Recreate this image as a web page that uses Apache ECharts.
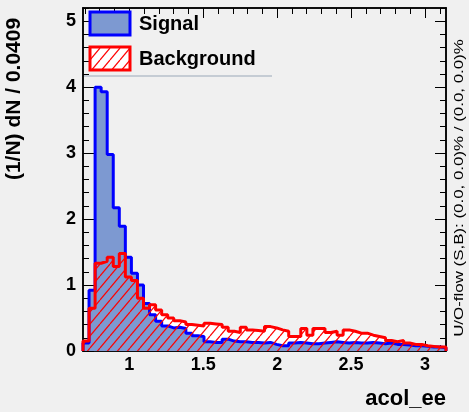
<!DOCTYPE html>
<html><head><meta charset="utf-8">
<script src="https://cdn.jsdelivr.net/npm/echarts@6/dist/echarts.min.js"></script>
<style>html,body{margin:0;padding:0;background:#f0f0f0;}#c{width:469px;height:412px;}</style>
</head><body><div id="c"></div>
<script>
// Binning: 60 bins of width 0.0409 from 0.6876 to pi
const xMin = 0.6876;
const binWidth = 0.0409;
const nBins = 60;
const xMax = xMin + nBins * binWidth;

const signal = [
  0.12, 0.92, 4.00, 3.93, 2.98, 2.17, 1.89, 1.42, 1.18, 1.00,
  0.72, 0.55, 0.45, 0.38, 0.35, 0.36, 0.34, 0.27, 0.23, 0.22,
  0.14, 0.13, 0.13, 0.18, 0.15, 0.14, 0.14, 0.13, 0.13, 0.12,
  0.13, 0.10, 0.08, 0.08, 0.12, 0.13, 0.12, 0.11, 0.11, 0.12,
  0.13, 0.14, 0.13, 0.12, 0.13, 0.12, 0.12, 0.13, 0.12, 0.11,
  0.12, 0.10, 0.10, 0.09, 0.08, 0.08, 0.07, 0.06, 0.06, 0.05
];
const background = [
  0.15, 0.65, 1.33, 1.36, 1.42, 1.28, 1.48, 1.12, 1.07, 0.80,
  0.65, 0.70, 0.62, 0.55, 0.50, 0.46, 0.44, 0.40, 0.39, 0.38,
  0.42, 0.41, 0.40, 0.36, 0.30, 0.28, 0.36, 0.32, 0.31, 0.30,
  0.37, 0.35, 0.32, 0.30, 0.22, 0.22, 0.34, 0.24, 0.34, 0.34,
  0.28, 0.30, 0.24, 0.32, 0.30, 0.27, 0.27, 0.24, 0.22, 0.20,
  0.16, 0.14, 0.16, 0.12, 0.10, 0.10, 0.08, 0.07, 0.06, 0.06
];

const xMajorTicks = [1, 1.5, 2, 2.5, 3];
const xMinorTicks = [0.7, 0.8, 0.9, 1.0, 1.1, 1.2, 1.3, 1.4, 1.5, 1.6, 1.7, 1.8, 1.9, 2.0,
  2.1, 2.2, 2.3, 2.4, 2.5, 2.6, 2.7, 2.8, 2.9, 3.0, 3.1];
const yMajorTicks = [0, 1, 2, 3, 4, 5];
const yMinorTicks = [0.2, 0.4, 0.6, 0.8, 1.2, 1.4, 1.6, 1.8, 2.2, 2.4, 2.6, 2.8, 3.2, 3.4, 3.6, 3.8,
  4.2, 4.4, 4.6, 4.8, 5.2];
const yMax = 5.2;

const seriesNames = ['Signal', 'Background'];
const xTitle = 'acol_ee';
const yTitle = '(1/N) dN / 0.0409';
const flowText = 'U/O-flow (S,B): (0.0, 0.0)% / (0.0, 0.0)%';

function stepData(vals) {
  const pts = [[xMin, 0]];
  vals.forEach((v, k) => pts.push([xMin + k * binWidth, v]));
  pts.push([xMax, vals[vals.length - 1]]);
  pts.push([xMax, 0]);
  return pts;
}

function hatchCanvas() {
  const c = document.createElement('canvas');
  c.width = 10; c.height = 12;
  const g = c.getContext('2d');
  g.strokeStyle = '#ff0000';
  g.lineWidth = 1.2;
  [[0, 0], [-10, 0], [10, 0]].forEach(([dx, dy]) => {
    g.beginPath();
    g.moveTo(0 + dx, 12 + dy);
    g.lineTo(10 + dx, 0 + dy);
    g.stroke();
  });
  return c;
}
const hatch = { image: hatchCanvas(), repeat: 'repeat' };

const FONT = '"Liberation Sans", Arial, Helvetica, sans-serif';

function xAxisDef(position, ticks, len, labels) {
  return {
    type: 'value', min: xMin, max: xMax, position: position,
    axisLine: { show: true, onZero: false, lineStyle: { color: '#000', width: 1.5 } },
    axisTick: { show: true, inside: true, length: len, customValues: ticks, lineStyle: { color: '#000', width: 1 } },
    axisLabel: labels ? { show: true, customValues: xMajorTicks, margin: 5, color: '#000',
      fontFamily: FONT, fontWeight: 'bold', fontSize: 18 } : { show: false },
    splitLine: { show: false }
  };
}
function yAxisDef(position, ticks, len, labels) {
  return {
    type: 'value', min: 0, max: yMax, position: position,
    axisLine: { show: true, onZero: false, lineStyle: { color: '#000', width: 1.5 } },
    axisTick: { show: true, inside: true, length: len, customValues: ticks, lineStyle: { color: '#000', width: 1 } },
    axisLabel: labels ? { show: true, customValues: yMajorTicks, margin: 7, color: '#000',
      fontFamily: FONT, fontWeight: 'bold', fontSize: 18 } : { show: false },
    splitLine: { show: false }
  };
}

const chart = echarts.init(document.getElementById('c'), null, { renderer: 'canvas' });
chart.setOption({
  backgroundColor: '#f0f0f0',
  animation: false,
  grid: { left: 83, right: 23, top: 8, bottom: 61, containLabel: false },
  xAxis: [
    xAxisDef('bottom', xMajorTicks, 10, true),
    xAxisDef('bottom', xMinorTicks, 6, false),
    xAxisDef('top', xMajorTicks, 10, false),
    xAxisDef('top', xMinorTicks, 6, false)
  ],
  yAxis: [
    yAxisDef('left', yMajorTicks, 11, true),
    yAxisDef('left', yMinorTicks, 6, false),
    yAxisDef('right', yMajorTicks, 11, false),
    yAxisDef('right', yMinorTicks, 6, false)
  ],
  series: [
    { name: 'bgBase', type: 'line', step: 'end', data: stepData(background), symbol: 'none',
      lineStyle: { width: 0, opacity: 0 }, areaStyle: { color: '#ffffff', opacity: 1 }, silent: true, z: 1 },
    { name: seriesNames[0], type: 'line', step: 'end', data: stepData(signal), symbol: 'none',
      lineStyle: { color: '#0000ff', width: 3 }, areaStyle: { color: '#7d99d1', opacity: 1 }, silent: true, z: 2 },
    { name: seriesNames[1], type: 'line', step: 'end', data: stepData(background), symbol: 'none',
      lineStyle: { color: '#ff0000', width: 3 }, areaStyle: { color: hatch, opacity: 1 }, silent: true, z: 3 }
  ],
  graphic: [
    { type: 'line', shape: { x1: 84, y1: 76, x2: 272, y2: 76 }, style: { stroke: '#9aa8b8', lineWidth: 1 }, z: 10 },
    { type: 'rect', shape: { x: 90, y: 12, width: 40, height: 23 },
      style: { fill: '#7d99d1', stroke: '#0000ff', lineWidth: 3 }, z: 10 },
    { type: 'rect', shape: { x: 90, y: 47, width: 40, height: 23 },
      style: { fill: '#ffffff', stroke: 'none' }, z: 10 },
    { type: 'rect', shape: { x: 90, y: 47, width: 40, height: 23 },
      style: { fill: hatch, stroke: '#ff0000', lineWidth: 3 }, z: 11 },
    { type: 'text', x: 139, y: 24, style: { text: seriesNames[0], fill: '#000', font: 'bold 20px ' + FONT,
      textAlign: 'left', textVerticalAlign: 'middle' }, z: 10 },
    { type: 'text', x: 139, y: 59, style: { text: seriesNames[1], fill: '#000', font: 'bold 20px ' + FONT,
      textAlign: 'left', textVerticalAlign: 'middle' }, z: 10 },
    { type: 'text', x: 14, y: 99, rotation: Math.PI / 2, style: { text: yTitle, fill: '#000',
      font: 'bold 21px ' + FONT, textAlign: 'center', textVerticalAlign: 'middle' }, z: 10 },
    { type: 'text', x: 459, y: 188, rotation: Math.PI / 2, scaleX: 1.3, style: { text: flowText, fill: '#000',
      font: '13px ' + FONT, textAlign: 'center', textVerticalAlign: 'middle' }, z: 10 },
    { type: 'text', x: 446, y: 399, style: { text: xTitle, fill: '#000', font: 'bold 22px ' + FONT,
      textAlign: 'right', textVerticalAlign: 'middle' }, z: 10 }
  ]
});
</script></body></html>
